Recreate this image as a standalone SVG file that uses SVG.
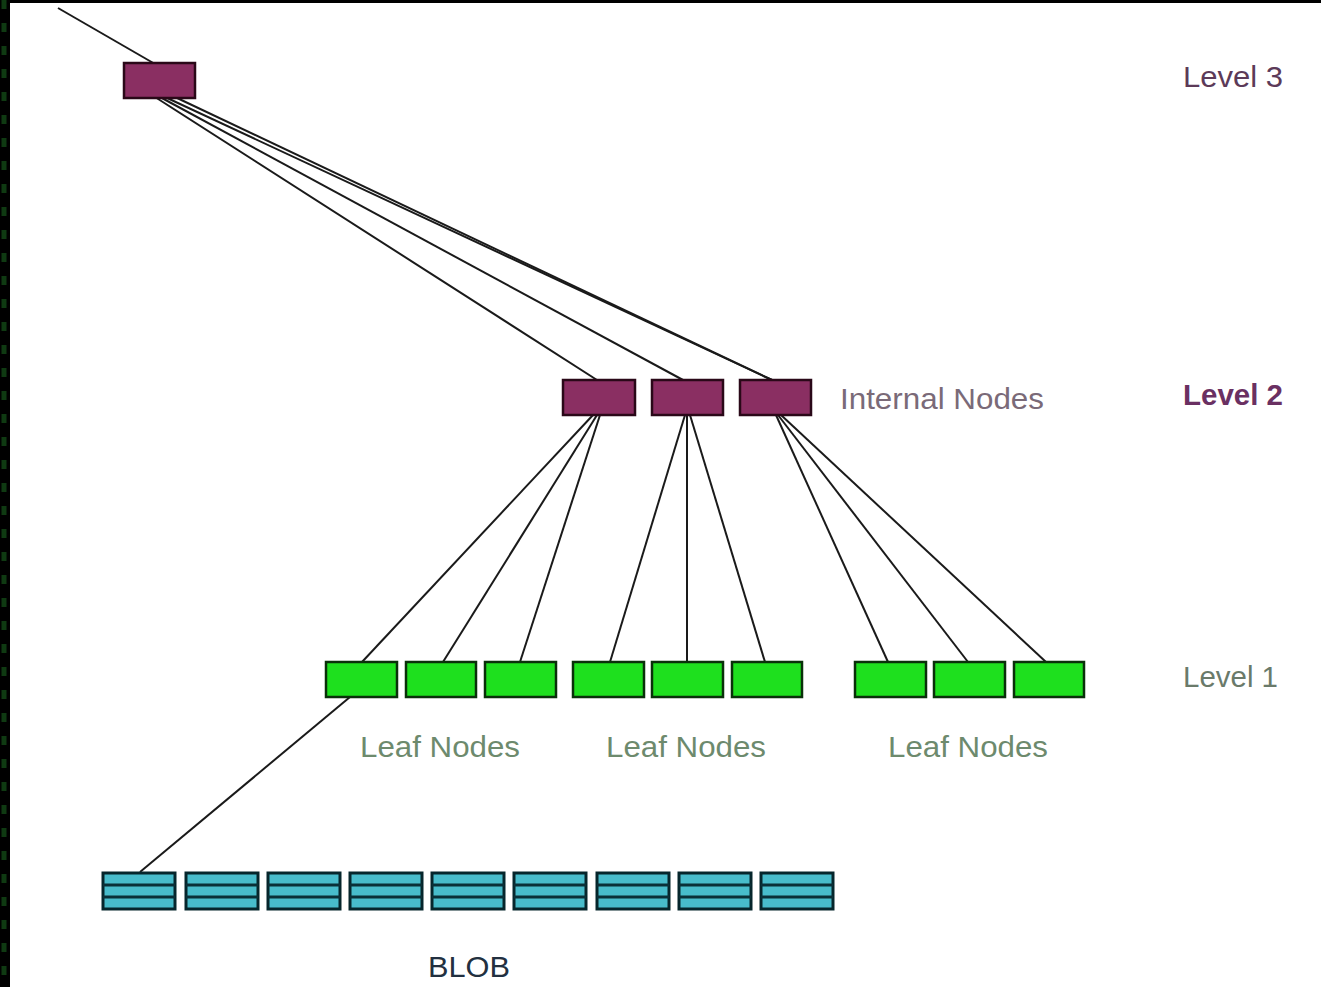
<svg xmlns="http://www.w3.org/2000/svg" width="1321" height="987" viewBox="0 0 1321 987">
<style>
.l3{fill:#8a2f62;stroke:#2a0818;stroke-width:2.5}
.leaf{fill:#1ee01e;stroke:#0a300a;stroke-width:2.5}
.blob{fill:#48bccb;stroke:#06262c;stroke-width:3}
.bl{stroke:#0a3038;stroke-width:3}
.c line{stroke:#1a1a1a;stroke-width:2}
.t{font-family:"Liberation Sans",Arial,sans-serif}
</style>
<rect x="0" y="0" width="1321" height="987" fill="#fff"/>
<rect x="0" y="0" width="1321" height="3" fill="#000"/>
<rect x="0" y="0" width="10" height="987" fill="#000"/>
<line x1="4" y1="0" x2="4" y2="987" stroke="#0f3a12" stroke-width="5" stroke-dasharray="9 14"/>
<g class="c" id="connectors">
<line x1="58" y1="8" x2="155" y2="64"/>
<line x1="155" y1="97" x2="597" y2="380"/>
<line x1="160" y1="97" x2="683" y2="380"/>
<line x1="165" y1="97" x2="772" y2="380"/>
<line x1="175" y1="97" x2="772" y2="380"/>
<line x1="593" y1="415" x2="362" y2="662"/>
<line x1="597" y1="415" x2="443" y2="662"/>
<line x1="600" y1="415" x2="520" y2="662"/>
<line x1="685" y1="415" x2="610" y2="662"/>
<line x1="687" y1="415" x2="687" y2="662"/>
<line x1="690" y1="415" x2="765" y2="662"/>
<line x1="776" y1="415" x2="888" y2="662"/>
<line x1="778" y1="415" x2="968" y2="662"/>
<line x1="781" y1="415" x2="1046" y2="662"/>
<line x1="350" y1="697" x2="140" y2="872"/>
</g>
<g id="n-l3"><rect class="l3" x="124" y="63" width="71" height="35"/></g>
<g id="n-i1"><rect class="l3" x="563" y="380" width="72" height="35"/></g>
<g id="n-i2"><rect class="l3" x="652" y="380" width="71" height="35"/></g>
<g id="n-i3"><rect class="l3" x="740" y="380" width="71" height="35"/></g>
<g id="n-leaf1"><rect class="leaf" x="326" y="662" width="71" height="35"/></g>
<g id="n-leaf2"><rect class="leaf" x="406" y="662" width="70" height="35"/></g>
<g id="n-leaf3"><rect class="leaf" x="485" y="662" width="71" height="35"/></g>
<g id="n-leaf4"><rect class="leaf" x="573" y="662" width="71" height="35"/></g>
<g id="n-leaf5"><rect class="leaf" x="652" y="662" width="71" height="35"/></g>
<g id="n-leaf6"><rect class="leaf" x="732" y="662" width="70" height="35"/></g>
<g id="n-leaf7"><rect class="leaf" x="855" y="662" width="71" height="35"/></g>
<g id="n-leaf8"><rect class="leaf" x="934" y="662" width="71" height="35"/></g>
<g id="n-leaf9"><rect class="leaf" x="1014" y="662" width="70" height="35"/></g>
<g id="blob">
<g id="b1"><rect class="blob" x="103" y="873" width="72" height="36"/><path class="bl" d="M103 885H175M103 897H175"/></g>
<g id="b2"><rect class="blob" x="186" y="873" width="72" height="36"/><path class="bl" d="M186 885H258M186 897H258"/></g>
<g id="b3"><rect class="blob" x="268" y="873" width="72" height="36"/><path class="bl" d="M268 885H340M268 897H340"/></g>
<g id="b4"><rect class="blob" x="350" y="873" width="72" height="36"/><path class="bl" d="M350 885H422M350 897H422"/></g>
<g id="b5"><rect class="blob" x="432" y="873" width="72" height="36"/><path class="bl" d="M432 885H504M432 897H504"/></g>
<g id="b6"><rect class="blob" x="514" y="873" width="72" height="36"/><path class="bl" d="M514 885H586M514 897H586"/></g>
<g id="b7"><rect class="blob" x="597" y="873" width="72" height="36"/><path class="bl" d="M597 885H669M597 897H669"/></g>
<g id="b8"><rect class="blob" x="679" y="873" width="72" height="36"/><path class="bl" d="M679 885H751M679 897H751"/></g>
<g id="b9"><rect class="blob" x="761" y="873" width="72" height="36"/><path class="bl" d="M761 885H833M761 897H833"/></g>
</g>
<g id="labels" class="t">
<text x="840" y="409" font-size="29" fill="#7a6a78" textLength="204" lengthAdjust="spacingAndGlyphs">Internal Nodes</text>
<text x="360" y="757" font-size="30" fill="#6d8a6d" textLength="160" lengthAdjust="spacingAndGlyphs">Leaf Nodes</text>
<text x="606" y="757" font-size="30" fill="#6d8a6d" textLength="160" lengthAdjust="spacingAndGlyphs">Leaf Nodes</text>
<text x="888" y="757" font-size="30" fill="#6d8a6d" textLength="160" lengthAdjust="spacingAndGlyphs">Leaf Nodes</text>
<text x="428" y="977" font-size="29" fill="#223040" textLength="82" lengthAdjust="spacingAndGlyphs">BLOB</text>
<text x="1183" y="87" font-size="29" fill="#5c3a58" textLength="100" lengthAdjust="spacingAndGlyphs">Level 3</text>
<text x="1183" y="405" font-size="29" font-weight="bold" fill="#6a3062" textLength="100" lengthAdjust="spacingAndGlyphs">Level 2</text>
<text x="1183" y="687" font-size="29" fill="#6a7a6a" textLength="95" lengthAdjust="spacingAndGlyphs">Level 1</text>
</g>
</svg>
